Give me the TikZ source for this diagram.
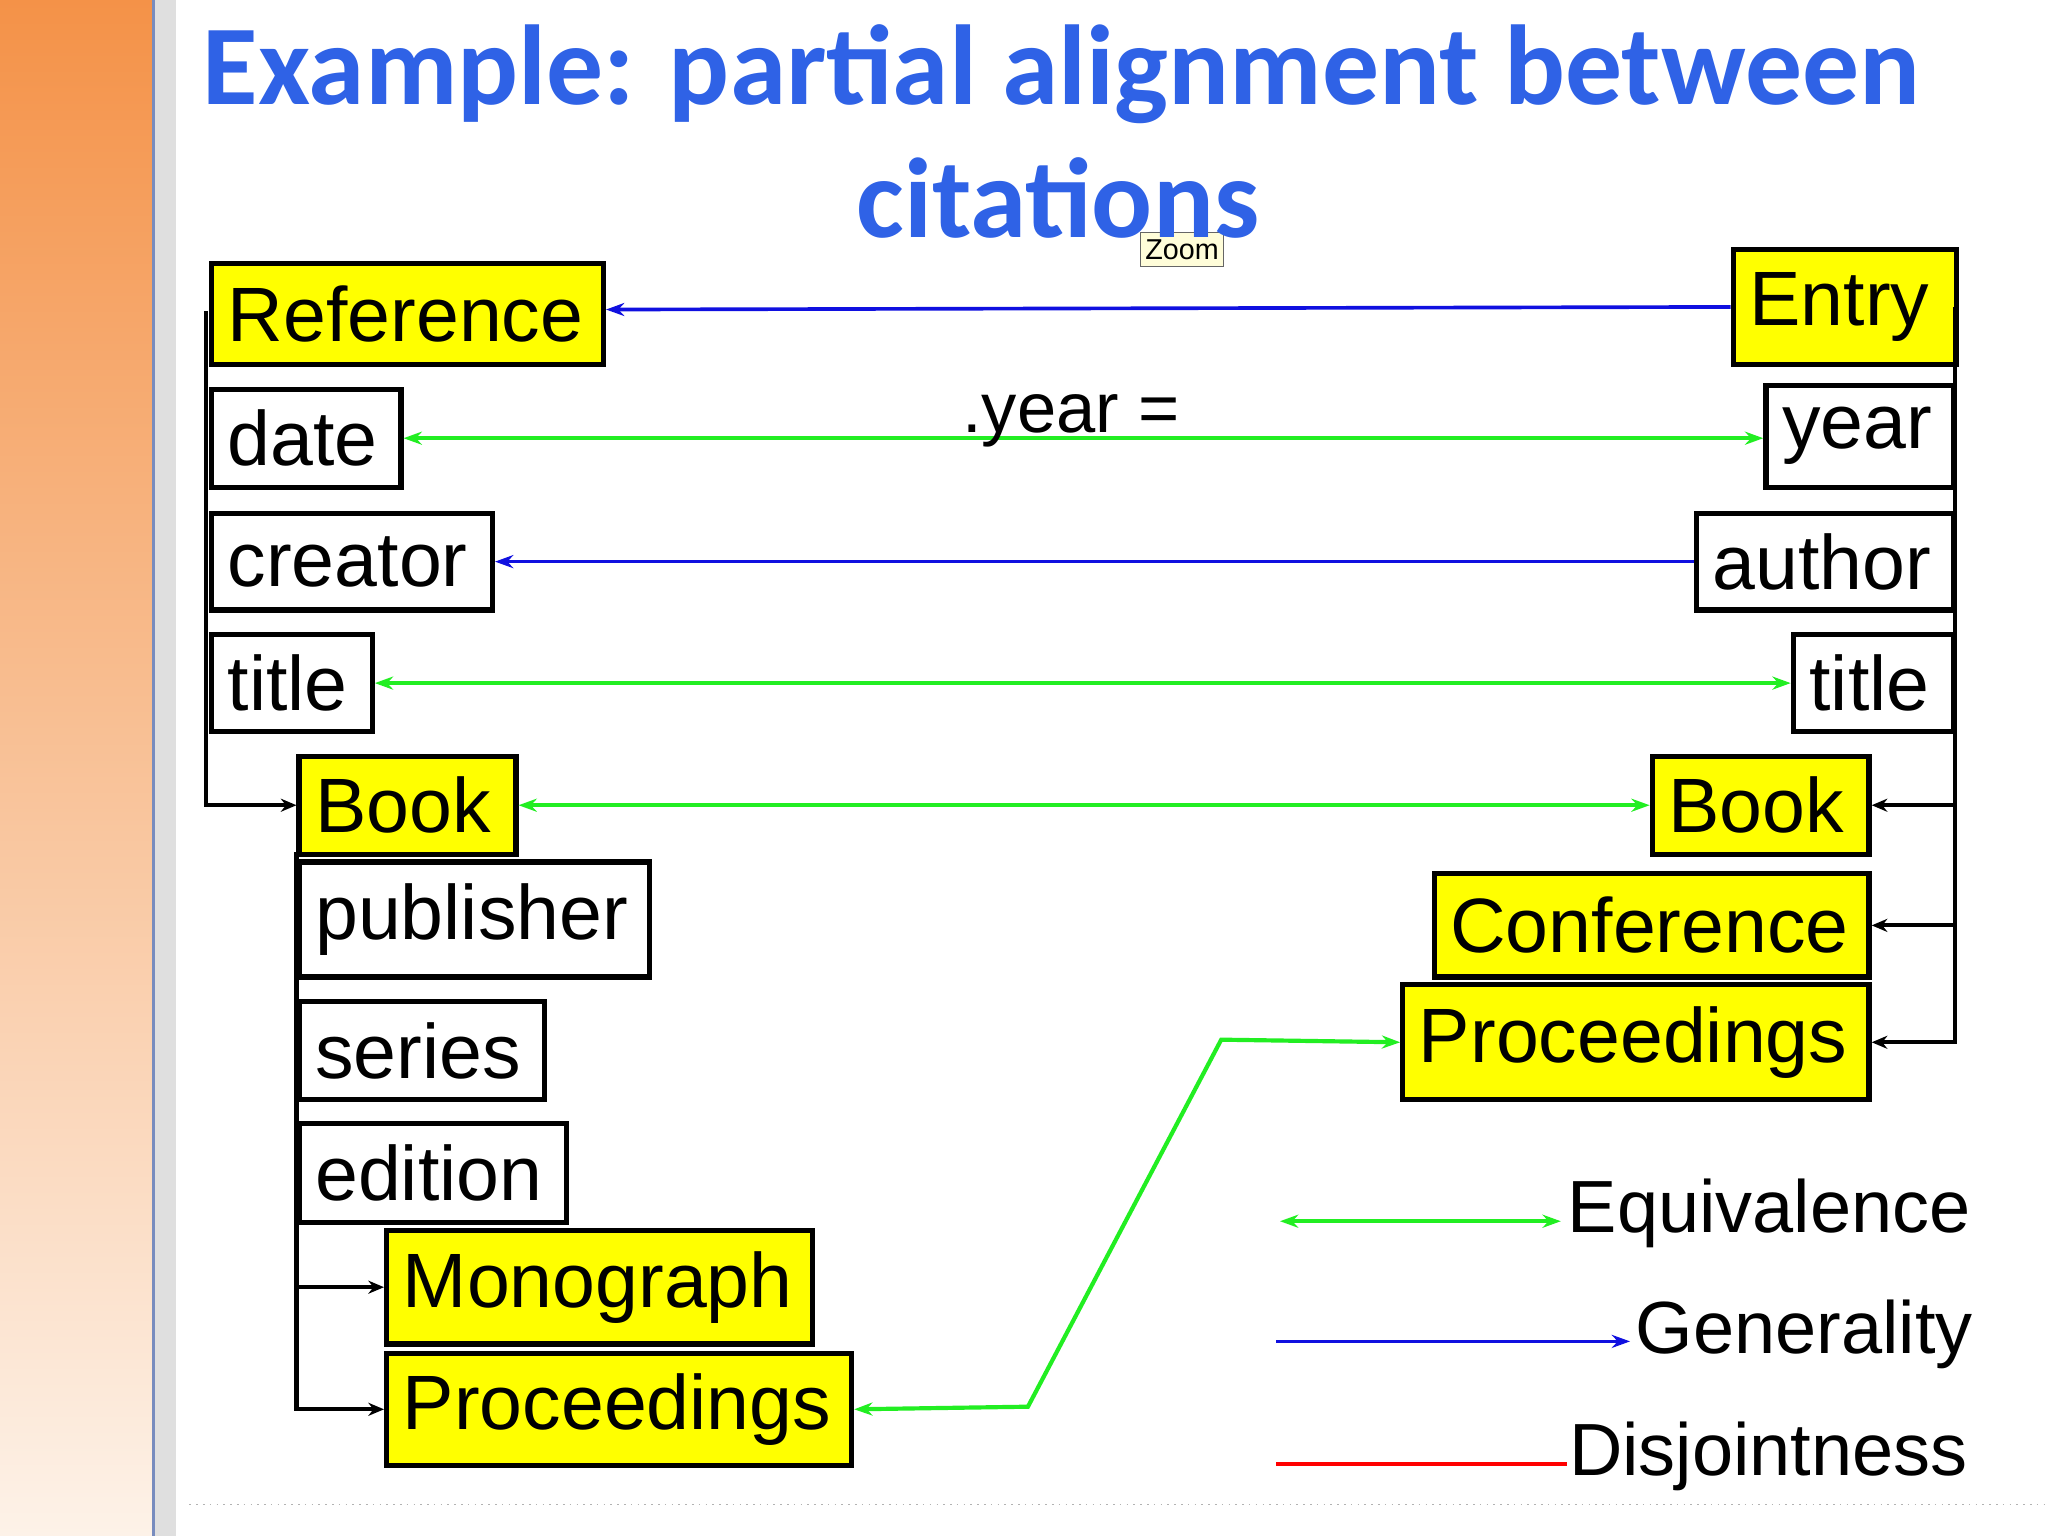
\documentclass[tikz,border=0pt]{standalone}
\usepackage{fontspec}
\setmainfont{Liberation Sans}
\newfontfamily\titlefont{Carlito}
\usetikzlibrary{arrows.meta}
\definecolor{ttl}{HTML}{2F62E6}
\definecolor{gr}{HTML}{22EE22}
\definecolor{bl}{HTML}{1010E0}
\definecolor{yel}{HTML}{FFFF00}
\definecolor{orgtop}{HTML}{F49248}
\definecolor{orgbot}{HTML}{FDF2E8}
\definecolor{edgeblue}{HTML}{788CBE}
\tikzset{
 box/.style={draw=black,line width=2pt,inner sep=0pt,anchor=north west},
 lbl/.style={anchor=west,font=\fontsize{29.5}{32}\selectfont,inner sep=0pt},
 trunk/.style={line width=1.6pt},
 tree/.style={line width=1.6pt,-{Stealth[length=6pt,width=5pt]}},
 eq/.style={gr,line width=1.6pt,{Stealth[length=7pt,width=5pt]}-{Stealth[length=7pt,width=5pt]}},
 gen/.style={bl,line width=1.4pt,-{Stealth[length=7pt,width=5pt]}},
}
\newcommand{\bx}[7]{%
 \node[box,fill=#6,minimum width={(#4-#2)*0.5pt},minimum height={(#5-#3)*0.5pt}] (#1) at (#2,#3) {};
 \node[lbl] at ([xshift=7pt]#1.west) {#7};}
\begin{document}
\begin{tikzpicture}[x=0.5pt,y=-0.5pt]
\useasboundingbox (0,0) rectangle (1568,1176);
\fill[white] (0,0) rectangle (1568,1176);
\shade[top color=orgtop,bottom color=orgbot] (0,0) rectangle (117,1176);
\draw[line width=0.8pt,edgeblue] (117.5,0) -- (117.5,1176);
\fill[gray!25] (119,0) rectangle (135,1176);
\draw[gray!60,dotted,line width=0.6pt] (145,1152) -- (1568,1152);
% title
\node[draw=black!60,fill=yellow!15,font=\fontsize{11}{12}\selectfont,inner sep=1pt,minimum width=32pt,minimum height=13pt] (zoom) at (905,191) {Zoom};
\node[font=\titlefont\bfseries\fontsize{43.5}{46}\selectfont,text=ttl,anchor=base west,inner sep=0] (t1) at (155,80) {Example: partial alignment between};
\node[font=\titlefont\bfseries\fontsize{43.5}{46}\selectfont,text=ttl,anchor=base,inner sep=0] (t2) at (810,182) {citations};
% left boxes
\bx{ref}{160}{200}{460}{277}{yel}{Reference}
\bx{date}{160}{296}{305}{371}{white}{date}
\bx{creator}{160}{391}{375}{465}{white}{creator}
\bx{titleL}{160}{484}{283}{558}{white}{title}
\bx{bookL}{227}{577}{393}{652}{yel}{Book}
\bx{pub}{227}{658}{495}{746}{white}{publisher}
\bx{series}{227}{765}{415}{840}{white}{series}
\bx{edition}{227}{858}{432}{934}{white}{edition}
\bx{mono}{294}{940}{620}{1027}{yel}{Monograph}
\bx{procL}{294}{1034}{650}{1120}{yel}{Proceedings}
% right boxes
\bx{entry}{1325}{189}{1496}{277}{yel}{Entry}
\bx{year}{1350}{293}{1494}{371}{white}{year}
\bx{author}{1297}{391}{1494}{465}{white}{author}
\bx{titleR}{1371}{484}{1494}{558}{white}{title}
\bx{bookR}{1263}{577}{1429}{652}{yel}{Book}
\bx{conf}{1096}{667}{1429}{746}{yel}{Conference}
\bx{procR}{1072}{752}{1429}{840}{yel}{Proceedings}
% tree lines
\coordinate (lt) at (158,238);
\coordinate (lt2) at (227,652);
\coordinate (rt) at (1497,235);
\draw[tree] (lt) |- (bookL.west);
\draw[trunk] (lt2) -- (227,1077);
\draw[tree] (lt2) |- (mono.west);
\draw[tree] (lt2) |- (procL.west);
\draw[tree] (rt) |- (bookR.east);
\draw[tree] (rt) |- (conf.east);
\draw[tree] (rt) |- (procR.east);
% relations
\draw[gen] (entry.west|-0,235) -- (ref.east|-0,237);
\draw[eq] (date.east) -- (year.west|-date.east);
\node[font=\fontsize{27}{30}\selectfont,inner sep=0] (yl) at (820,322) {.year =};
\draw[gen] (author.west) -- (creator.east);
\draw[eq] (titleL.east) -- (titleR.west);
\draw[eq] (bookL.east) -- (bookR.west);
\draw[eq] (procR.west) -- (935,796) -- (787,1077) -- (procL.east);
% legend
\coordinate (e1) at (980,935); \coordinate (e2) at (1195,935);
\coordinate (g1) at (977,1027); \coordinate (g2) at (1248,1027);
\coordinate (d1) at (977,1121); \coordinate (d2) at (1200,1121);
\draw[eq] (e1) -- (e2);
\draw[gen] (g1) -- (g2);
\draw[red,line width=1.4pt] (d1) -- (d2);
\node[lbl,font=\fontsize{28.3}{30}\selectfont] (le) at (1200,929) {Equivalence};
\node[lbl,font=\fontsize{28.3}{30}\selectfont] (lg) at (1252,1022) {Generality};
\node[lbl,font=\fontsize{28.3}{30}\selectfont] (ld) at (1201,1115) {Disjointness};
\end{tikzpicture}
\end{document}
